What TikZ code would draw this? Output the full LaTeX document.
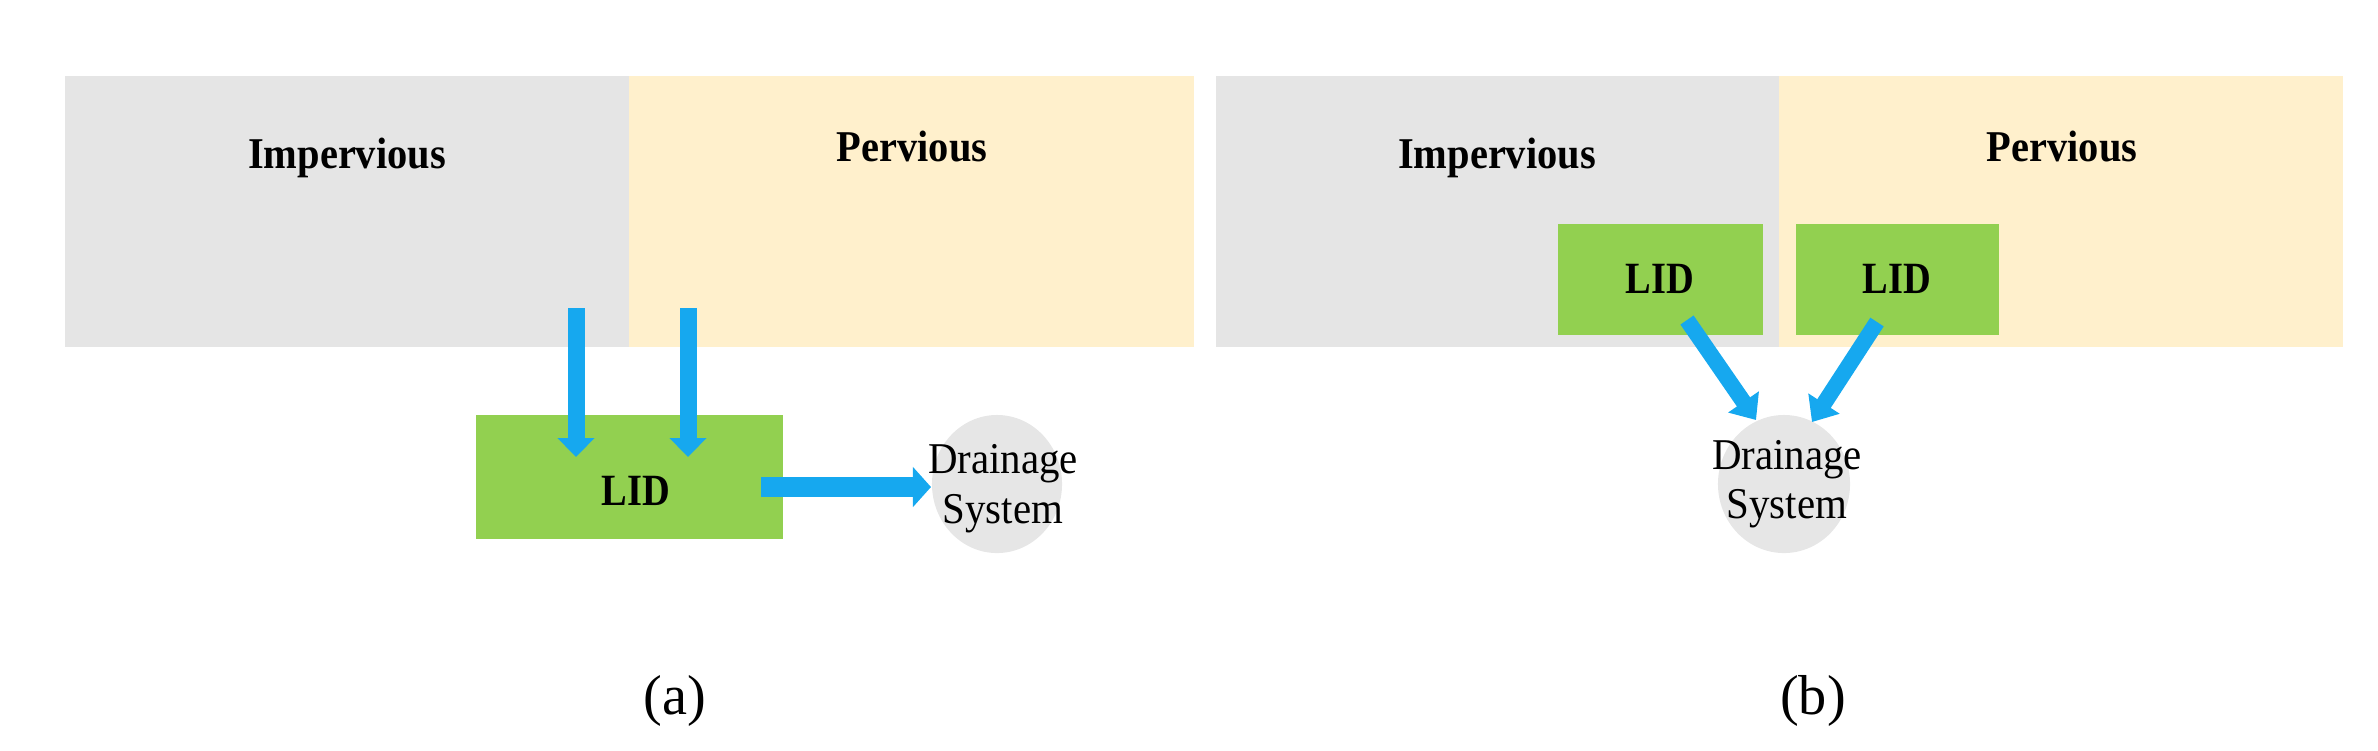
\documentclass[tikz,border=0pt]{standalone}
\usepackage{fontspec}
\setmainfont{Liberation Serif}
\newfontfamily\regionfont[FakeStretch=0.92]{Liberation Serif}
\newfontfamily\lidfont[FakeStretch=0.86]{Liberation Serif}
\newfontfamily\drainfont[FakeStretch=0.93]{Liberation Serif}
\usetikzlibrary{arrows.meta,shapes.geometric}
\definecolor{impgray}{HTML}{E5E5E5}
\definecolor{percream}{HTML}{FFF0CC}
\definecolor{lidgreen}{HTML}{92D050}
\definecolor{flowblue}{HTML}{16A8EF}
\definecolor{draingray}{HTML}{E6E6E6}
\begin{document}
\begin{tikzpicture}[x=0.01cm,y=-0.01cm,
  area/.style={rectangle,draw=none,inner sep=0pt,outer sep=0pt,anchor=north west,minimum height=2.71cm},
  impbox/.style={area,fill=impgray},
  perbox/.style={area,fill=percream},
  lidbox/.style={rectangle,draw=none,fill=lidgreen,inner sep=0pt,outer sep=0pt,anchor=north west},
  drainshape/.style={ellipse,draw=none,fill=draingray,inner sep=0pt,outer sep=0pt,minimum height=1.38cm},
  regionlbl/.style={anchor=base,inner sep=0pt,font=\regionfont\bfseries\fontsize{12.5}{15}\selectfont},
  lidlbl/.style={anchor=base,inner sep=0pt,font=\lidfont\bfseries\fontsize{12.7}{15}\selectfont},
  drainlbl/.style={anchor=base,inner sep=0pt,font=\drainfont\fontsize{12.5}{15}\selectfont},
  caption/.style={anchor=base,inner sep=0pt,font=\fontsize{16}{19}\selectfont},
  flowa/.style={draw=flowblue,line width=0.17cm,-{Triangle[length=0.19cm,width=0.36cm]}},
  flowh/.style={draw=flowblue,line width=0.2cm,-{Triangle[length=0.18cm,width=0.39cm]}},
  flowb/.style={draw=flowblue,line width=0.16cm,-{Triangle[length=0.22cm,width=0.36cm]}}
]
\useasboundingbox (0,0) rectangle (2378,750);

% ---------- panel (a) ----------
\node[impbox,minimum width=5.64cm] (impA) at (65,76) {};
\node[perbox,minimum width=5.65cm] (perA) at (629,76) {};
\node[regionlbl] (impAlbl) at (347,168) {Impervious};
\node[regionlbl] (perAlbl) at (912,161) {Pervious};

\node[lidbox,minimum width=3.07cm,minimum height=1.24cm] (lidA) at (476,415) {};
\node[lidlbl] (lidAlbl) at (636,505) {LID};

\node[drainshape,minimum width=1.30cm] (drainA) at (997,484) {};
\node[drainlbl] (drainA1) at (1003,473) {Drainage};
\node[drainlbl] (drainA2) at (1003,523) {System};

\coordinate (a1s) at (576,308);
\coordinate (a1t) at (576,457);
\coordinate (a2s) at (688,308);
\coordinate (a2t) at (688,457);
\coordinate (a3s) at (761,487);
\coordinate (a3t) at (931,487);
\draw[flowa] (a1s) -- (a1t);
\draw[flowa] (a2s) -- (a2t);
\draw[flowh] (a3s) -- (a3t);

\node[caption] (capA) at (675,714) {(a)};

% ---------- panel (b) ----------
\node[impbox,minimum width=5.63cm] (impB) at (1216,76) {};
\node[perbox,minimum width=5.64cm] (perB) at (1779,76) {};
\node[regionlbl] (impBlbl) at (1497,168) {Impervious};
\node[regionlbl] (perBlbl) at (2062,161) {Pervious};

\node[lidbox,minimum width=2.05cm,minimum height=1.11cm] (lidB1) at (1558,224) {};
\node[lidbox,minimum width=2.03cm,minimum height=1.11cm] (lidB2) at (1796,224) {};
\node[lidlbl] (lidB1lbl) at (1660,293) {LID};
\node[lidlbl] (lidB2lbl) at (1897,293) {LID};

\node[drainshape,minimum width=1.32cm] (drainB) at (1784,484) {};
\node[drainlbl] (drainB1) at (1787,469) {Drainage};
\node[drainlbl] (drainB2) at (1787,518) {System};

\coordinate (b1s) at (1687,320);
\coordinate (b1t) at (1756,420);
\coordinate (b2s) at (1877,322);
\coordinate (b2t) at (1812,422);
\draw[flowb] (b1s) -- (b1t);
\draw[flowb] (b2s) -- (b2t);

\node[caption] (capB) at (1813,714) {(b)};
\end{tikzpicture}
\end{document}
